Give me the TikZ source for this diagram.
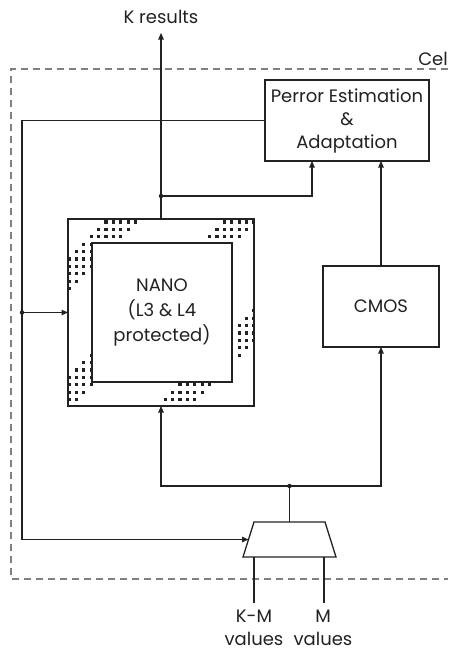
\documentclass[tikz,border=0pt]{standalone}
\usepackage{fontspec}
\setmainfont{Poppins}
\usetikzlibrary{arrows.meta}
\definecolor{ink}{HTML}{222222}
\definecolor{cellgray}{HTML}{808080}
\tikzset{
  box/.style={draw=ink, line width=1.3pt, fill=white, inner sep=0pt, outer sep=0pt},
  thickbox/.style={draw=ink, line width=2pt, inner sep=0pt, outer sep=0pt},
  conn/.style={draw=ink, line width=1.2pt},
  arr/.style={conn, -{Triangle[length=6.5pt,width=5.5pt]}},
  lbl/.style={text=ink, font=\fontsize{18}{23}\selectfont, align=center, inner sep=0pt},
  jdot/.style={fill=ink, circle, inner sep=0pt, minimum size=4.5pt},
  cellline/.style={draw=cellgray, line width=1.3pt, dash pattern=on 7pt off 5pt},
}
\begin{document}
\begin{tikzpicture}[x=1pt,y=-1pt]
\useasboundingbox (0,0) rectangle (448,654);
% cell boundary
\draw[cellline] (448,69) -- (11,69) -- (11,579) -- (448,579);
\node[lbl, anchor=south east] (cell) at (448,66) {Cel};
% boxes
\node[box, minimum width=164pt, minimum height=81pt] (perr) at (347,120.5) {};
\node[lbl] at (perr.center) {Perror Estimation\\\&\\Adaptation};
\node[box, minimum width=116pt, minimum height=81pt] (cmos) at (381,306.5) {};
\node[lbl] at (cmos.center) {CMOS};
\node[thickbox, minimum width=186pt, minimum height=187pt] (nanoout) at (161,312.5) {};
% dotted stripes in the frame
\begin{scope}
\clip (68,219) rectangle (254,406);
\foreach \i in {0,...,25}{
  \foreach \j in {0,...,25}{
    \pgfmathsetmacro\xx{69+7.4*\i}
    \pgfmathsetmacro\yy{222+7.4*\j}
    \pgfmathsetmacro\ss{\xx+\yy}
    \pgfmathtruncatemacro\ok{((\ss>=326)&&(\ss<=361))||((\ss>=444)&&(\ss<=479))||((\ss>=563)&&(\ss<=595)) ? 1 : 0}
    \ifnum\ok=1
      \fill[ink] (\xx-1.6,\yy-1.6) rectangle ++(3.2,3.2);
    \fi
  }
}
\end{scope}
\node[thickbox, fill=white, minimum width=140pt, minimum height=139pt] (nano) at (162,312.5) {};
\node[lbl, font=\fontsize{18}{25}\selectfont] at (nano.center) {NANO\\(L3 \& L4\\protected)};
\draw[thickbox] (nanoout.south west) rectangle (nanoout.north east);
% mux (trapezoid)
\coordinate (mtl) at (254,522);
\coordinate (mtr) at (325,522);
\coordinate (mbr) at (336,557);
\coordinate (mbl) at (243,557);
\draw[draw=ink, line width=1.3pt, line join=miter] (mtl) -- (mtr) -- (mbr) -- (mbl) -- cycle;
\coordinate (mtop) at (289.5,522);
\coordinate (mleft) at (248.5,539.5);
% coordinates
\coordinate (kout) at (161,33);
\coordinate (j1) at (161,196);
\coordinate (lft) at (22,312.5);
\coordinate (j2) at (289.5,486);
\coordinate (in1) at (254,603);
\coordinate (in2) at (324,603);
\node[lbl] (kres) at (161,17) {K results};
% connectors
\draw[arr] (nanoout.north) -- (kout);
\draw[arr] (j1) -| ([xshift=-35pt]perr.south);
\draw[arr] (cmos.north) -- (cmos.north |- perr.south);
\draw[arr] (perr.west) -| (lft) |- (mleft);
\draw[arr] (lft) -- (nanoout.west);
\draw[conn] (mtop) -- (j2);
\draw[arr] (j2) -| (nanoout.south);
\draw[arr] (j2) -| (cmos.south);
\draw[conn] (in1) -- (in1 |- mbl);
\draw[conn] (in2) -- (in2 |- mbl);
\node[jdot] at (j1) {};
\node[jdot] at (lft) {};
\node[jdot] at (j2) {};
\node[lbl, anchor=north] (lkm) at (254,610) {K-M\\values};
\node[lbl, anchor=north] (lm) at (323,610) {M\\values};
\end{tikzpicture}
\end{document}
